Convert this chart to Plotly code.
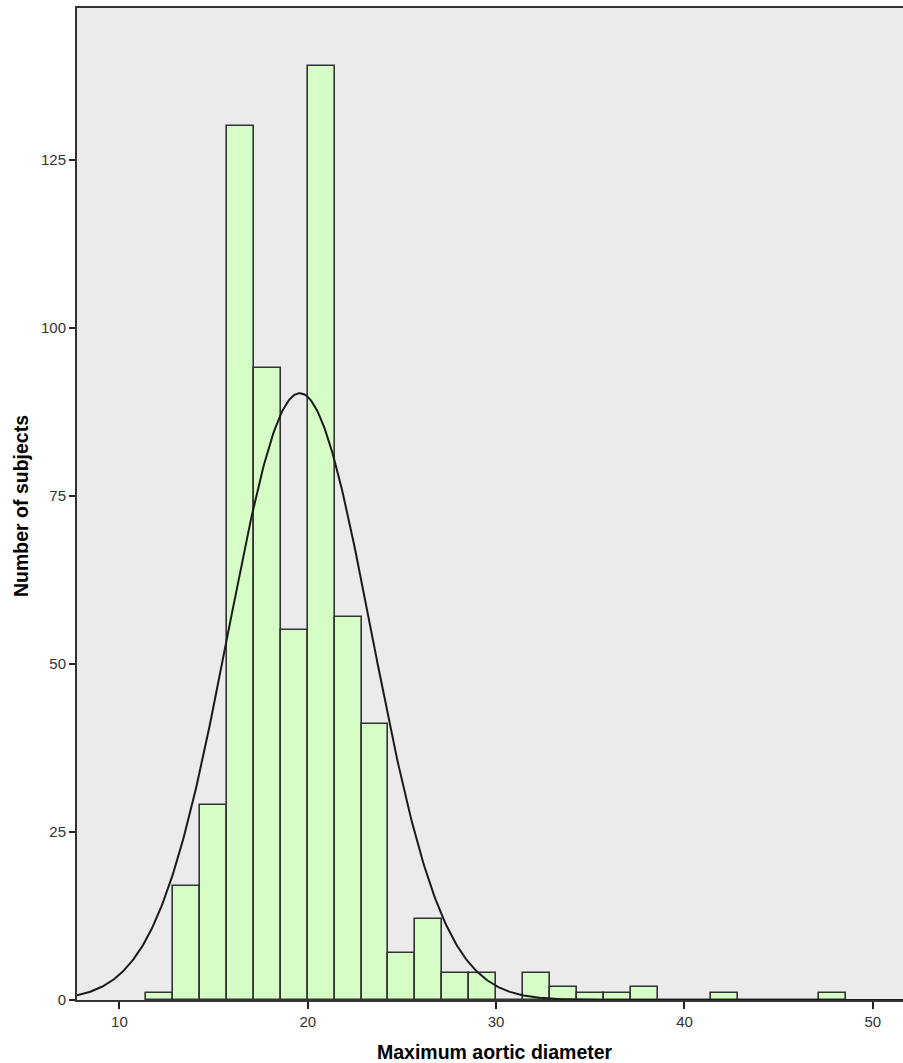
import numpy as np
import plotly.graph_objects as go

# ---- data ----
BIN_WIDTH = 10 / 7
FIRST_BIN_LEFT = 20 - 6 * BIN_WIDTH
counts = [1, 17, 29, 130, 94, 55, 139, 57, 41, 7, 12, 4, 4, 0, 4, 2, 1, 1, 2,
          0, 0, 1, 0, 0, 0, 1]
N_SUBJECTS = 602
FIT_MEAN = 19.58
FIT_SD = 3.80
x_ticks = [10, 20, 30, 40, 50]
y_ticks = [0, 25, 50, 75, 100, 125]
x_title = "Maximum aortic diameter"
y_title = "Number of subjects"
X_RANGE = [7.75, 51.6]
Y_RANGE = [0, 147.6]

centers = [FIRST_BIN_LEFT + (i + 0.5) * BIN_WIDTH for i in range(len(counts))]

# fitted normal curve scaled to counts
xs = np.linspace(X_RANGE[0], X_RANGE[1], 600)
ys = N_SUBJECTS * BIN_WIDTH / (FIT_SD * np.sqrt(2 * np.pi)) * np.exp(-0.5 * ((xs - FIT_MEAN) / FIT_SD) ** 2)

W, H = 903, 1063
ML, MR, MT, MB = 77, 0, 8, 63

fig = go.Figure()
fig.add_trace(go.Bar(
    x=centers, y=counts, width=BIN_WIDTH,
    marker=dict(color="#d6fdc6", line=dict(color="#333333", width=1.6)),
    hoverinfo="x+y", showlegend=False,
))
fig.add_trace(go.Scatter(
    x=xs, y=ys, mode="lines", line=dict(color="#1a1a1a", width=2),
    showlegend=False, hoverinfo="skip",
))

tick_font = dict(family="Liberation Sans, Arial, sans-serif", size=15, color="#333333")
fig.update_layout(
    width=W, height=H,
    margin=dict(l=ML, r=MR, t=MT, b=MB),
    paper_bgcolor="white", plot_bgcolor="#ebebeb",
    bargap=0,
    xaxis=dict(range=X_RANGE, tickvals=x_ticks, ticks="outside", ticklen=7,
               tickwidth=1.5, tickcolor="#222222", showgrid=False, zeroline=False,
               showline=True, linecolor="#333333", linewidth=2, mirror=True,
               tickfont=tick_font),
    yaxis=dict(range=Y_RANGE, tickvals=y_ticks, ticks="outside", ticklen=6,
               tickwidth=1.5, tickcolor="#222222", showgrid=False, zeroline=False,
               showline=True, linecolor="#333333", linewidth=2,
               tickfont=tick_font),
)

pw = W - ML - MR
ph = H - MT - MB
title_font = dict(family="Liberation Sans, Arial, sans-serif", size=19.5, color="black")
fig.add_annotation(text="<b>%s</b>" % x_title, xref="paper", yref="paper",
                   x=(495 - ML) / pw, y=-(1052 - (MT + ph)) / ph,
                   showarrow=False, font=title_font, xanchor="center", yanchor="middle")
fig.add_annotation(text="<b>%s</b>" % y_title, xref="paper", yref="paper",
                   x=-(ML - 21) / pw, y=(MT + ph - 506) / ph, textangle=-90,
                   showarrow=False, font=title_font, xanchor="center", yanchor="middle")

fig.write_html("out.html", config={"displayModeBar": False},
               post_script="document.body.style.margin='0';document.body.style.overflow='hidden';")
